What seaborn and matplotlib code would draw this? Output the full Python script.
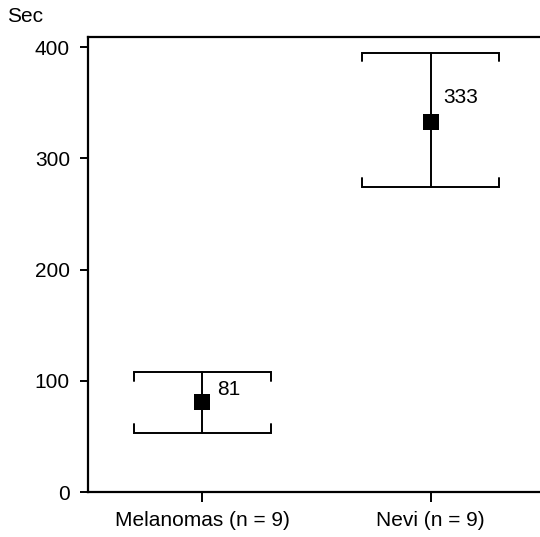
import numpy as np
import pandas as pd
import seaborn as sns
import matplotlib
matplotlib.use("Agg")
import matplotlib.pyplot as plt

# data
groups = ["Melanomas (n = 9)", "Nevi (n = 9)"]
means = [81, 333]
upper = [108, 395]
lower = [53, 274]
labels = ["81", "333"]

df = pd.DataFrame({"group": groups, "mean": means, "upper": upper, "lower": lower})
df["pos"] = np.arange(len(groups))

sns.set_style("ticks")
plt.rcParams["font.family"] = ["Liberation Sans", "DejaVu Sans"]
plt.rcParams["text.color"] = "black"
plt.rcParams["xtick.color"] = "black"
plt.rcParams["ytick.color"] = "black"
plt.rcParams["axes.edgecolor"] = "black"

fs = 15

fig = plt.figure(figsize=(5.4, 5.37), dpi=100)
ax = fig.add_axes([88 / 540, 1 - 492 / 537, (545 - 88) / 540, (492 - 37) / 537])

cap = 0.3      # half width of caps (data units)
tick = 8       # bracket tick length (data units)
lw = 1.4

# vertical whiskers + caps
for _, r in df.iterrows():
    ax.plot([r.pos, r.pos], [r.lower, r.upper], color="black", lw=lw, zorder=2)
    ax.plot([r.pos - cap, r.pos - cap, r.pos + cap, r.pos + cap],
            [r.upper - tick, r.upper, r.upper, r.upper - tick],
            color="black", lw=lw, solid_joinstyle="miter", zorder=2)
    ax.plot([r.pos - cap, r.pos - cap, r.pos + cap, r.pos + cap],
            [r.lower + tick, r.lower, r.lower, r.lower + tick],
            color="black", lw=lw, solid_joinstyle="miter", zorder=2)

sns.scatterplot(data=df, x="pos", y="mean", marker="s", s=135, color="black",
                edgecolor="black", linewidth=0, ax=ax, zorder=3)

# value labels
offsets = [(11, 9), (9, 17)]
for (_, r), lab, off in zip(df.iterrows(), labels, offsets):
    ax.annotate(lab, (r.pos, r["mean"]), xytext=off, textcoords="offset points",
                ha="left", va="center", fontsize=fs, color="black")

ax.set_xlim(-0.5, 1.5)
ax.set_ylim(0, 409)
ax.set_xticks(df["pos"])
ax.set_xticklabels(groups, fontsize=fs)
ax.set_yticks([0, 100, 200, 300, 400])
ax.set_yticklabels(["0", "100", "200", "300", "400"], fontsize=fs)
ax.set_xlabel("")
ax.set_ylabel("")
ax.tick_params(axis="y", length=6, width=1.4, direction="out", pad=7)
ax.tick_params(axis="x", length=7, width=1.4, direction="out", pad=7)
for side in ["left", "top", "bottom"]:
    ax.spines[side].set_linewidth(1.6)
ax.spines["right"].set_visible(False)

fig.text(7 / 540, 1 - 17 / 537, "Sec", fontsize=fs, ha="left", va="center", color="black")

fig.savefig("out.png", dpi=100)
